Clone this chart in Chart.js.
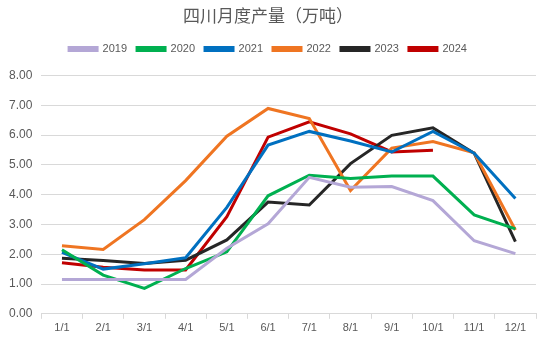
<!DOCTYPE html>
<html>
<head>
<meta charset="utf-8">
<script src="https://cdn.jsdelivr.net/npm/chart.js@4/dist/chart.umd.min.js"></script>
<style>
  html, body { margin: 0; padding: 0; background: #fff; }
  #wrap { width: 550px; height: 346px; }
</style>
</head>
<body>
<div id="wrap"><canvas id="chart" width="550" height="346"></canvas></div>
<script>
const months = ["1/1", "2/1", "3/1", "4/1", "5/1", "6/1", "7/1", "8/1", "9/1", "10/1", "11/1", "12/1"];
const y2019 = [1.15, 1.15, 1.15, 1.15, 2.2, 3.02, 4.58, 4.25, 4.27, 3.8, 2.45, 2.02];
const y2020 = [2.15, 1.3, 0.85, 1.52, 2.08, 3.96, 4.65, 4.54, 4.62, 4.62, 3.32, 2.85];
const y2021 = [2.06, 1.5, 1.68, 1.88, 3.57, 5.66, 6.12, 5.8, 5.43, 6.12, 5.39, 3.87];
const y2022 = [2.28, 2.16, 3.16, 4.47, 5.96, 6.89, 6.55, 4.14, 5.56, 5.78, 5.4, 2.81];
const y2023 = [1.86, 1.79, 1.69, 1.8, 2.48, 3.75, 3.65, 5.04, 5.99, 6.24, 5.39, 2.42];
const y2024 = [1.71, 1.56, 1.47, 1.47, 3.26, 5.93, 6.44, 6.04, 5.43, 5.49];

function series(label, data, color) {
  return {
    label: label,
    data: data,
    borderColor: color,
    backgroundColor: color,
    borderWidth: 3,
    pointRadius: 0,
    tension: 0,
    fill: false,
  };
}

// extra room under the legend
const legendGap = {
  id: "legendGap",
  beforeInit(chart) {
    const fit = chart.legend.fit;
    chart.legend.fit = function () {
      fit.bind(chart.legend)();
      this.height += 11;
    };
  },
};

new Chart(document.getElementById("chart").getContext("2d"), {
  type: "line",
  data: {
    labels: months,
    datasets: [
      series("2019", y2019, "#b4a7d6"),
      series("2020", y2020, "#00b050"),
      series("2021", y2021, "#0070c0"),
      series("2022", y2022, "#ef7522"),
      series("2023", y2023, "#262626"),
      series("2024", y2024, "#c00000"),
    ],
  },
  plugins: [legendGap],
  options: {
    responsive: false,
    animation: false,
    layout: { padding: { left: 0, right: 14, top: 3, bottom: 8 } },
    plugins: {
      title: {
        display: true,
        text: "四川月度产量（万吨）",
        color: "#595959",
        font: { family: "'Noto Sans CJK SC'", size: 17, weight: "normal" },
        padding: { top: 2, bottom: 8 },
      },
      legend: {
        position: "top",
        labels: {
          boxWidth: 28,
          boxHeight: 3,
          color: "#595959",
          font: { family: "'Liberation Sans', Arial", size: 11 },
          padding: 10,
        },
      },
      tooltip: { enabled: false },
    },
    scales: {
      x: {
        offset: true,
        grid: {
          display: true,
          drawOnChartArea: false,
          offset: true,
          color: "#d9d9d9",
          tickLength: 5,
        },
        border: { color: "#d9d9d9" },
        ticks: {
          color: "#595959",
          font: { family: "'Liberation Sans', Arial", size: 11 },
          maxRotation: 0,
        },
      },
      y: {
        min: 0,
        max: 8,
        ticks: {
          stepSize: 1,
          color: "#595959",
          font: { family: "'Liberation Sans', Arial", size: 12 },
          callback: (v) => v.toFixed(2),
          padding: 9,
        },
        grid: { color: "#d9d9d9", drawTicks: false },
        border: { display: false },
      },
    },
  },
});
</script>
</body>
</html>
